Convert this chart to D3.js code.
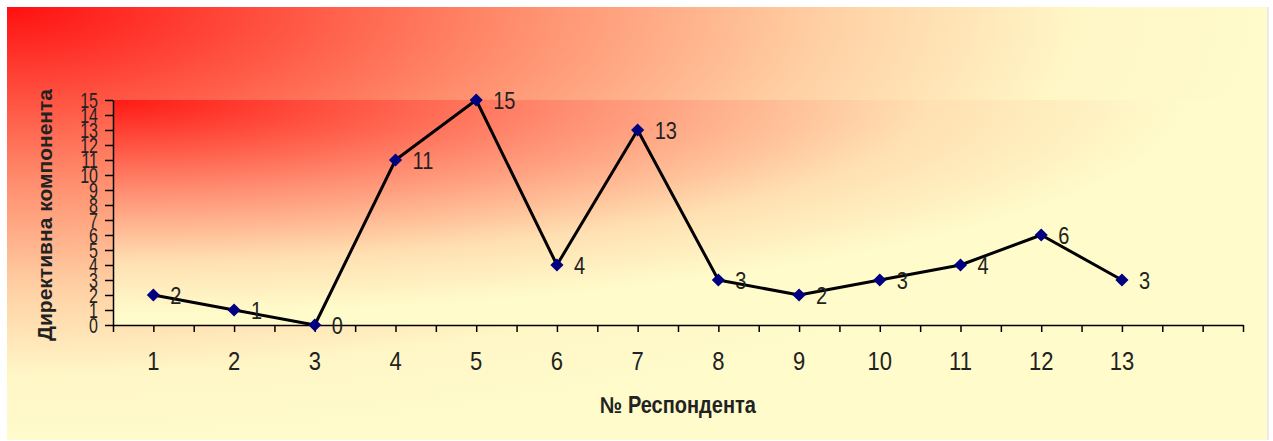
<!DOCTYPE html>
<html>
<head>
<meta charset="utf-8">
<script src="https://cdn.jsdelivr.net/npm/d3@7"></script>
<style>
  body { margin: 0; background: #fff; }
  text { font-family: "Liberation Sans", Arial, sans-serif; fill: #222; }
</style>
</head>
<body>
<div id="main"></div>
<script>
// chart data
const respondents = ["1", "2", "3", "4", "5", "6", "7", "8", "9", "10", "11", "12", "13"];
const directive = [2, 1, 0, 11, 15, 4, 13, 3, 2, 3, 4, 6, 3];
const yTicks = d3.range(0, 16);
const slots = 14; // one empty slot after the last respondent

const width = 1273;
const height = 441;
const plot = { left: 113, top: 100, right: 1243, bottom: 325 };

const svg = d3.select('#main')
  .append('svg')
  .attr('width', width)
  .attr('height', height);

const defs = svg.append('defs');

function cornerGradient(id, stops) {
  const g = defs.append('radialGradient')
    .attr('id', id)
    .attr('cx', 0).attr('cy', 0).attr('fx', 0).attr('fy', 0).attr('r', 1);
  stops.forEach(s => g.append('stop').attr('offset', s[0]).attr('stop-color', s[1]));
}
cornerGradient('outerFill', [[0, '#ff1010'], [0.4, '#ff8c6c'], [0.65, '#ffd0a4'], [0.85, '#fff6c6'], [1, '#fffbcb']]);
cornerGradient('plotFill', [[0, '#ff1a14'], [0.4, '#ff8c70'], [0.72, '#ffe0b2'], [0.95, '#fffbca']]);

svg.append('rect')
  .attr('x', 7).attr('y', 7)
  .attr('width', 1260).attr('height', 433)
  .attr('fill', 'url(#outerFill)');

svg.append('line')
  .attr('x1', 1268).attr('x2', 1268).attr('y1', 7).attr('y2', 440)
  .attr('stroke', '#e4e4e4').attr('stroke-width', 1.5);

const x = d3.scaleLinear().domain([0, slots]).range([plot.left, plot.right]);
const y = d3.scaleLinear().domain([0, 15]).range([plot.bottom, plot.top]);

svg.append('rect')
  .attr('x', plot.left).attr('y', plot.top)
  .attr('width', plot.right - plot.left).attr('height', plot.bottom - plot.top)
  .attr('fill', 'url(#plotFill)');

// y axis
const yAxis = d3.axisLeft(y).tickValues(yTicks).tickSize(8).tickSizeOuter(0).tickFormat('');
svg.append('g')
  .attr('transform', `translate(${plot.left},0)`)
  .call(yAxis)
  .call(g => g.selectAll('line, path').attr('stroke', '#000').attr('stroke-width', 1.5));

svg.append('g')
  .selectAll('text')
  .data(yTicks)
  .enter()
  .append('text')
  .attr('transform', d => `translate(98,${y(d)}) scale(1,1.4)`)
  .attr('text-anchor', 'end')
  .attr('dominant-baseline', 'central')
  .style('font-size', '16px')
  .text(d => d);

// x axis, ticks at each half slot
const xAxis = d3.axisBottom(x).tickValues(d3.range(0, slots + 0.5, 0.5)).tickSize(7).tickSizeOuter(0).tickFormat('');
svg.append('g')
  .attr('transform', `translate(0,${plot.bottom})`)
  .call(xAxis)
  .call(g => g.selectAll('line, path').attr('stroke', '#000').attr('stroke-width', 1.5));

svg.append('g')
  .selectAll('text')
  .data(respondents)
  .enter()
  .append('text')
  .attr('transform', (d, i) => `translate(${x(i + 0.5)},370) scale(1,1.15)`)
  .attr('text-anchor', 'middle')
  .style('font-size', '22px')
  .text(d => d);

// line + markers
const line = d3.line()
  .x((d, i) => x(i + 0.5))
  .y(d => y(d));

svg.append('path')
  .datum(directive)
  .attr('d', line)
  .attr('fill', 'none')
  .attr('stroke', '#000')
  .attr('stroke-width', 3)
  .attr('stroke-linejoin', 'round');

const diamond = d3.symbol().type(d3.symbolDiamond2).size(110);
svg.append('g')
  .selectAll('path')
  .data(directive)
  .enter()
  .append('path')
  .attr('d', diamond)
  .attr('transform', (d, i) => `translate(${x(i + 0.5)},${y(d)})`)
  .attr('fill', '#000080');

svg.append('g')
  .selectAll('text')
  .data(directive)
  .enter()
  .append('text')
  .attr('transform', (d, i) => `translate(${x(i + 0.5) + 17},${y(d) + 1}) scale(1,1.2)`)
  .attr('dominant-baseline', 'central')
  .style('font-size', '20px')
  .text(d => d);

// axis titles
svg.append('text')
  .attr('transform', 'translate(678,413) scale(1,1.15)')
  .attr('text-anchor', 'middle')
  .style('font-size', '20px')
  .style('font-weight', 'bold')
  .text('№ Респондента');

svg.append('text')
  .attr('transform', 'translate(52,215) rotate(-90)')
  .attr('text-anchor', 'middle')
  .style('font-size', '21px')
  .style('font-weight', 'bold')
  .text('Директивна компонента');
</script>
</body>
</html>
